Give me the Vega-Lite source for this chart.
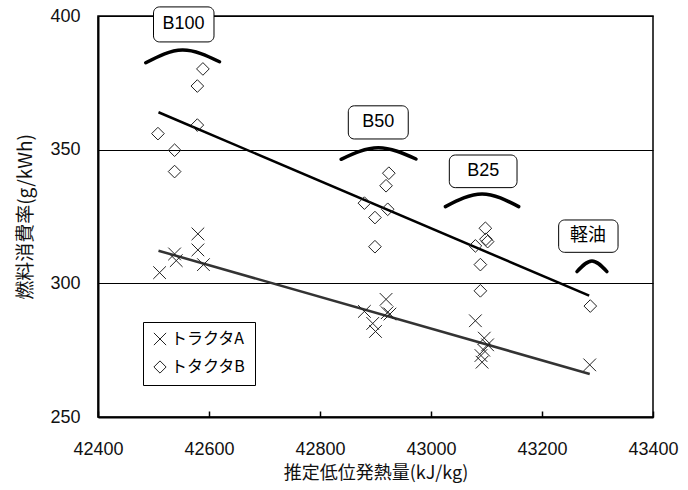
{
  "$schema": "https://vega.github.io/schema/vega-lite/v6.json",
  "width": 555,
  "height": 401,
  "autosize": "none",
  "padding": {"left": 98, "top": 16, "right": 35, "bottom": 73},
  "config": {
    "view": {"stroke": "#000", "strokeWidth": 1.5},
    "font": "Liberation Sans"
  },
  "datasets": {
    "points": [
      {"tractor": "トラクタA", "x": 42511, "y": 304},
      {"tractor": "トラクタA", "x": 42538, "y": 311},
      {"tractor": "トラクタA", "x": 42541, "y": 308.5},
      {"tractor": "トラクタA", "x": 42580, "y": 318.5},
      {"tractor": "トラクタA", "x": 42580, "y": 312.5},
      {"tractor": "トラクタA", "x": 42590, "y": 307},
      {"tractor": "トラクタA", "x": 42880, "y": 289.5},
      {"tractor": "トラクタA", "x": 42895, "y": 285},
      {"tractor": "トラクタA", "x": 42900, "y": 282},
      {"tractor": "トラクタA", "x": 42919, "y": 294},
      {"tractor": "トラクタA", "x": 42921, "y": 289},
      {"tractor": "トラクタA", "x": 42926, "y": 288.5},
      {"tractor": "トラクタA", "x": 43080, "y": 286},
      {"tractor": "トラクタA", "x": 43096, "y": 279.5},
      {"tractor": "トラクタA", "x": 43102, "y": 277},
      {"tractor": "トラクタA", "x": 43095, "y": 275},
      {"tractor": "トラクタA", "x": 43090, "y": 273},
      {"tractor": "トラクタA", "x": 43092, "y": 270.5},
      {"tractor": "トラクタA", "x": 43286, "y": 269.5},
      {"tractor": "トタクタB", "x": 42508, "y": 356},
      {"tractor": "トタクタB", "x": 42538, "y": 349.8},
      {"tractor": "トタクタB", "x": 42538, "y": 341.8},
      {"tractor": "トタクタB", "x": 42579, "y": 359.2},
      {"tractor": "トタクタB", "x": 42579, "y": 373.8},
      {"tractor": "トタクタB", "x": 42589, "y": 380.2},
      {"tractor": "トタクタB", "x": 42880, "y": 330},
      {"tractor": "トタクタB", "x": 42899, "y": 324.6},
      {"tractor": "トタクタB", "x": 42899, "y": 313.7},
      {"tractor": "トタクタB", "x": 42919, "y": 336.5},
      {"tractor": "トタクタB", "x": 42924, "y": 341.2},
      {"tractor": "トタクタB", "x": 42922, "y": 327.7},
      {"tractor": "トタクタB", "x": 43080, "y": 314},
      {"tractor": "トタクタB", "x": 43089, "y": 307},
      {"tractor": "トタクタB", "x": 43089, "y": 297.2},
      {"tractor": "トタクタB", "x": 43098, "y": 320.6},
      {"tractor": "トタクタB", "x": 43099, "y": 316.5},
      {"tractor": "トタクタB", "x": 43102, "y": 315.6},
      {"tractor": "トタクタB", "x": 43287, "y": 291.5}
    ],
    "lines": [
      {"s": "A", "x": 42509, "y": 312.2},
      {"s": "A", "x": 43286, "y": 266.1},
      {"s": "B", "x": 42509, "y": 364.0},
      {"s": "B", "x": 43285, "y": 295.4}
    ],
    "arcs": [
      {"g": "B100", "x": 42486, "y": 382.5},
      {"g": "B100", "x": 42552, "y": 387.3},
      {"g": "B100", "x": 42619, "y": 382.9},
      {"g": "B50", "x": 42838, "y": 346.4},
      {"g": "B50", "x": 42905, "y": 350.7},
      {"g": "B50", "x": 42973, "y": 346.5},
      {"g": "B25", "x": 43026, "y": 328.7},
      {"g": "B25", "x": 43092, "y": 333.4},
      {"g": "B25", "x": 43158, "y": 328.7},
      {"g": "軽油", "x": 43263, "y": 304.4},
      {"g": "軽油", "x": 43290, "y": 308.4},
      {"g": "軽油", "x": 43317, "y": 304.4}
    ],
    "boxes": [
      {"label": "B100", "x": 42500, "x2": 42609, "y": 390.3, "y2": 403.4, "xc": 42554, "yc": 396.9, "cjk": false},
      {"label": "B50", "x": 42851, "x2": 42959, "y": 354.0, "y2": 366.4, "xc": 42905, "yc": 360.2, "cjk": false},
      {"label": "B25", "x": 43033, "x2": 43155, "y": 335.8, "y2": 348.0, "xc": 43094, "yc": 341.9, "cjk": false},
      {"label": "軽油", "x": 43230, "x2": 43337, "y": 311.6, "y2": 323.7, "xc": 43283, "yc": 317.7, "cjk": true}
    ]
  },
  "encoding": {
    "x": {
      "field": "x", "type": "quantitative",
      "scale": {"domain": [42400, 43400], "nice": false, "zero": false},
      "axis": {
        "values": [42400, 42600, 42800, 43000, 43200, 43400],
        "format": "d",
        "title": "推定低位発熱量(kJ/kg)",
        "grid": false,
        "domainColor": "#000", "domainWidth": 2,
        "tickColor": "#000", "tickSize": -6, "tickWidth": 1.5,
        "labelFontSize": 18, "labelColor": "#111", "labelPadding": 29,
        "labelFlush": false, "labelOverlap": false,
        "titleFont": "Noto Sans CJK JP", "titleFontSize": 18, "titleFontWeight": "normal",
        "titleColor": "#111", "titlePadding": 6
      }
    },
    "y": {
      "field": "y", "type": "quantitative",
      "scale": {"domain": [250, 400], "nice": false, "zero": false},
      "axis": {
        "values": [250, 300, 350, 400],
        "title": "燃料消費率(g/kWh)",
        "grid": true, "gridColor": "#000", "gridWidth": 1, "gridOpacity": 1,
        "ticks": false,
        "domainColor": "#000", "domainWidth": 2,
        "labelFontSize": 18, "labelColor": "#111", "labelPadding": 18,
        "labelFlush": false, "labelOverlap": false,
        "titleFont": "Noto Sans CJK JP", "titleFontSize": 19, "titleFontWeight": "normal",
        "titleColor": "#111", "titlePadding": 14
      }
    }
  },
  "layer": [
    {
      "data": {"name": "lines"},
      "mark": {"type": "line", "strokeWidth": 2.5},
      "encoding": {
        "detail": {"field": "s"},
        "color": {
          "field": "s", "type": "nominal",
          "scale": {"domain": ["A", "B"], "range": ["#333333", "#000000"]},
          "legend": null
        }
      }
    },
    {
      "data": {"name": "points"},
      "mark": {"type": "point", "filled": false, "strokeWidth": 1, "opacity": 1, "color": "#222"},
      "encoding": {
        "shape": {
          "field": "tractor", "type": "nominal",
          "scale": {"domain": ["トラクタA", "トタクタB"], "range": ["M-1,-1L1,1M-1,1L1,-1", "diamond"]},
          "legend": {
            "orient": "none", "legendX": 45, "legendY": 306,
            "title": null,
            "strokeColor": "#000", "fillColor": "#fff",
            "padding": 9, "rowPadding": 10, "cornerRadius": 0,
            "labelFont": "Noto Sans CJK JP", "labelFontSize": 16, "labelColor": "#000",
            "symbolSize": 150, "symbolStrokeColor": "#222", "symbolStrokeWidth": 1,
            "symbolFillColor": "transparent", "labelOffset": 3
          }
        },
        "size": {"value": 160}
      }
    },
    {
      "data": {"name": "arcs"},
      "mark": {"type": "line", "interpolate": "natural", "strokeWidth": 3.5, "color": "#000", "strokeCap": "round"},
      "encoding": {"detail": {"field": "g"}}
    },
    {
      "data": {"name": "boxes"},
      "mark": {"type": "rect", "fill": "#fff", "stroke": "#000", "strokeWidth": 1, "cornerRadius": 6},
      "encoding": {"x2": {"field": "x2"}, "y2": {"field": "y2"}}
    },
    {
      "data": {"name": "boxes"},
      "transform": [{"filter": "!datum.cjk"}],
      "mark": {"type": "text", "fontSize": 18, "color": "#000", "font": "Liberation Sans", "baseline": "middle", "align": "center"},
      "encoding": {"x": {"field": "xc", "type": "quantitative"}, "y": {"field": "yc", "type": "quantitative"}, "text": {"field": "label"}}
    },
    {
      "data": {"name": "boxes"},
      "transform": [{"filter": "datum.cjk"}],
      "mark": {"type": "text", "fontSize": 18, "color": "#000", "font": "Noto Sans CJK JP", "baseline": "middle", "align": "center"},
      "encoding": {"x": {"field": "xc", "type": "quantitative"}, "y": {"field": "yc", "type": "quantitative"}, "text": {"field": "label"}}
    }
  ]
}
